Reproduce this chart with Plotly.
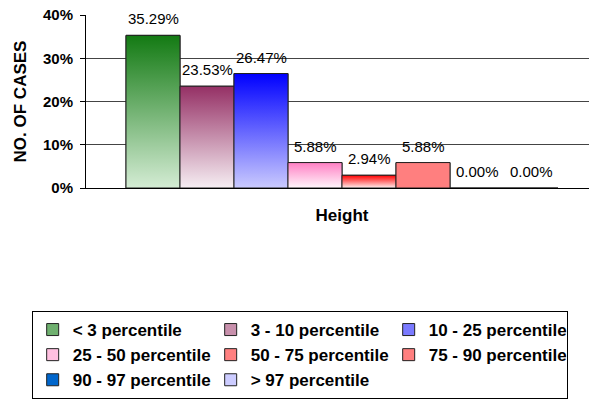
import plotly.graph_objects as go

# ---- data ----
categories = ["< 3 percentile", "3 - 10 percentile", "10 - 25 percentile",
              "25 - 50 percentile", "50 - 75 percentile", "75 - 90 percentile",
              "90 - 97 percentile", "> 97 percentile"]
values = [35.29, 23.53, 26.47, 5.88, 2.94, 5.88, 0.00, 0.00]
group_label = "Height"
y_ticks = [0, 10, 20, 30, 40]
y_tick_labels = ["0%", "10%", "20%", "30%", "40%"]

# ---- styles ----
top_colors = ["#137a13", "#953065", "#0000ff", "#ff80c4", "#ff0000", "#ff7f7f", "#0066cc", "#ccccff"]
bottom_colors = ["#d4ecd4", "#f6eef3", "#cacafe", "#fff6fb", "#fff0f0", "#ff7f7f", "#0066cc", "#ccccff"]
legend_colors = ["#6fb06f", "#c890ac", "#7a7aff", "#ffc0e0", "#ff8080", "#ff7f7f", "#0066cc", "#ccccff"]

FONT = "Liberation Sans, Arial, sans-serif"
bargap = 0.15625
g = 1 - bargap
n = len(categories)
bw = g / n

fig = go.Figure()
for i, (name, v) in enumerate(zip(categories, values)):
    fig.add_trace(go.Bar(
        x=[0], y=[v], name=name,
        marker=dict(color=legend_colors[i], line=dict(color="#222222", width=1)),
        hoverinfo="y+name",
    ))

# gradient overlays built from the same data
for i, v in enumerate(values):
    if v <= 0:
        continue
    x0 = -g / 2 + i * bw
    x1 = x0 + bw
    fig.add_trace(go.Scatter(
        x=[x0, x0, x1, x1, x0], y=[0, v, v, 0, 0],
        mode="lines", fill="toself",
        fillgradient=dict(type="vertical",
                          colorscale=[[0, bottom_colors[i]], [1, top_colors[i]]]),
        line=dict(color="#222222", width=1),
        showlegend=False, hoverinfo="skip",
    ))

# data labels
for i, v in enumerate(values):
    xc = -g / 2 + (i + 0.5) * bw
    fig.add_annotation(x=xc, y=v, text=f"{v:.2f}%", showarrow=False,
                       yanchor="bottom", yshift=6,
                       font=dict(family=FONT, size=15, color="#000000"))

fig.update_layout(
    width=589, height=403,
    margin=dict(l=86, r=0, t=15, b=215),
    paper_bgcolor="white", plot_bgcolor="white",
    barmode="group", bargap=bargap, bargroupgap=0,
    font=dict(family=FONT, color="#000000"),
    showlegend=True,
    legend=dict(
        orientation="h", x=-0.108, y=-0.711, xanchor="left", yanchor="top",
        bordercolor="#000000", borderwidth=1, bgcolor="white",
        font=dict(family=FONT, size=17, weight="bold", color="#000000"),
        entrywidth=133, entrywidthmode="pixels",
        traceorder="normal",
    ),
)
fig.update_xaxes(
    range=[-0.5, -0.5 + 503 / 512], tickvals=[0], ticktext=[group_label],
    showline=True, linecolor="#000000", linewidth=1, showgrid=False, zeroline=False,
    ticks="", ticklabelstandoff=12,
    tickfont=dict(family=FONT, size=17, weight="bold", color="#000000"),
)
fig.update_yaxes(
    range=[0, 40], tickvals=y_ticks, ticktext=y_tick_labels,
    showline=True, linecolor="#000000", linewidth=1,
    showgrid=True, gridcolor="#444444", gridwidth=1, zeroline=False,
    ticks="outside", ticklen=5, tickcolor="#000000", ticklabelstandoff=4,
    tickfont=dict(family=FONT, size=15, weight="bold", color="#000000"),
    title=dict(text="NO. OF CASES", standoff=12,
               font=dict(family=FONT, size=17, weight="bold", color="#000000")),
)

fig.write_html("out.html")
